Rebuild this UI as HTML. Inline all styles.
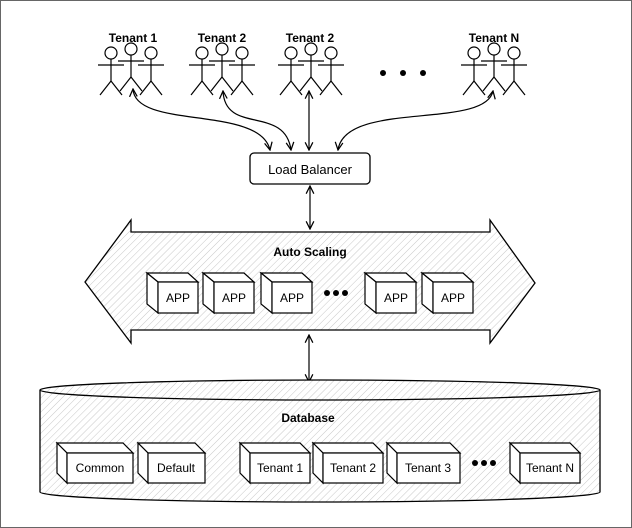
<!DOCTYPE html>
<html><head><meta charset="utf-8"><style>
html,body{margin:0;padding:0;background:#fff}
svg{display:block}
text{font-family:"Liberation Sans",sans-serif;fill:#000}
</style></head><body>
<svg width="632" height="528" viewBox="0 0 632 528" xmlns="http://www.w3.org/2000/svg">
<defs>
<pattern id="h" patternUnits="userSpaceOnUse" width="5" height="5" patternTransform="rotate(45)">
<rect width="5" height="5" fill="#fff"/><line x1="0" y1="0" x2="0" y2="5" stroke="#c8c8c8" stroke-width="1"/>
</pattern>
<marker id="a" viewBox="0 0 10 10" refX="9" refY="5" markerWidth="8" markerHeight="8" orient="auto-start-reverse">
<path d="M1,1 L9,5 L1,9" fill="none" stroke="#000" stroke-width="1.3"/>
</marker>
<g id="p" fill="none" stroke="#000" stroke-width="1.2">
<circle cx="0" cy="-18" r="6"/><line x1="0" y1="-12" x2="0" y2="10"/><line x1="-13" y1="-6" x2="13" y2="-6"/>
<line x1="0" y1="10" x2="-11" y2="24"/><line x1="0" y1="10" x2="11" y2="24"/>
</g>
<g id="tr">
<use href="#p" x="-20" y="71"/><use href="#p" x="0" y="67"/><use href="#p" x="20" y="71"/>
</g>
</defs>
<rect x="0.5" y="0.5" width="631" height="527" fill="#fff" stroke="#666"/>

<g font-size="12" font-weight="bold" text-anchor="middle">
<text x="133" y="42">Tenant 1</text><text x="222" y="42">Tenant 2</text><text x="310" y="42">Tenant 2</text><text x="494" y="42">Tenant N</text>
</g>
<use href="#tr" x="131" y="0"/><use href="#tr" x="222" y="0"/><use href="#tr" x="311" y="0"/><use href="#tr" x="494" y="0"/>
<circle cx="383" cy="73" r="3"/><circle cx="403" cy="73" r="3"/><circle cx="423" cy="73" r="3"/>

<g fill="none" stroke="#000" stroke-width="1.2" marker-start="url(#a)" marker-end="url(#a)">
<path d="M133,89 C135,130 260,105 270,150"/>
<path d="M223,91 C225,135 285,105 291,150"/>
<path d="M309,91 L309,150"/>
<path d="M493,91 C485,130 345,100 338,150"/>
<path d="M310,186 L310,229"/>
<path d="M309,335 L309,382"/>
</g>

<rect x="250" y="153" width="120" height="31" rx="4" fill="#fff" stroke="#000" stroke-width="1.3"/>
<text x="310" y="174" font-size="13" text-anchor="middle">Load Balancer</text>

<path d="M85,282 L131,220 L131,232 L490,232 L490,220 L535,283 L490,343 L490,330 L131,330 L131,343 Z" fill="url(#h)" stroke="#000" stroke-width="1.3"/>
<text x="310" y="256" font-size="12" font-weight="bold" text-anchor="middle">Auto Scaling</text>

<g stroke="#000" stroke-width="1.2" fill="#fff">
<g id="c1"><polygon points="147,273 188,273 198,282 158,282"/><polygon points="147,273 158,282 158,313 147,304"/><rect x="158" y="282" width="40" height="31"/></g>
<use href="#c1" x="56"/><use href="#c1" x="114"/><use href="#c1" x="218"/><use href="#c1" x="275"/>
</g>
<g font-size="12" text-anchor="middle">
<text x="178" y="302">APP</text><text x="234" y="302">APP</text><text x="292" y="302">APP</text><text x="396" y="302">APP</text><text x="453" y="302">APP</text>
</g>
<circle cx="327" cy="293" r="3"/><circle cx="336" cy="293" r="3"/><circle cx="345" cy="293" r="3"/>

<path d="M40,390 L40,492 A280,10 0 0 0 600,492 L600,390" fill="url(#h)" stroke="#000" stroke-width="1.3"/>
<ellipse cx="320" cy="390" rx="280" ry="10" fill="url(#h)" stroke="#000" stroke-width="1.3"/>
<text x="308" y="422" font-size="12" font-weight="bold" text-anchor="middle">Database</text>

<g stroke="#000" stroke-width="1.2" fill="#fff">
<polygon points="57,443 123,443 133,453 67,453"/><polygon points="57,443 67,453 67,483 57,473"/><rect x="67" y="453" width="66" height="30"/>
<polygon points="138,443 195,443 205,453 148,453"/><polygon points="138,443 148,453 148,483 138,473"/><rect x="148" y="453" width="57" height="30"/>
<polygon points="240,443 300,443 310,453 250,453"/><polygon points="240,443 250,453 250,483 240,473"/><rect x="250" y="453" width="60" height="30"/>
<polygon points="313,443 373,443 383,453 323,453"/><polygon points="313,443 323,453 323,483 313,473"/><rect x="323" y="453" width="60" height="30"/>
<polygon points="387,443 450,443 460,453 397,453"/><polygon points="387,443 397,453 397,483 387,473"/><rect x="397" y="453" width="63" height="30"/>
<polygon points="510,443 570,443 580,453 520,453"/><polygon points="510,443 520,453 520,483 510,473"/><rect x="520" y="453" width="60" height="30"/>
</g>
<g font-size="12" text-anchor="middle">
<text x="100" y="472">Common</text><text x="176" y="472">Default</text><text x="280" y="472">Tenant 1</text><text x="353" y="472">Tenant 2</text><text x="428" y="472">Tenant 3</text><text x="550" y="472">Tenant N</text>
</g>
<circle cx="475" cy="463" r="3"/><circle cx="484" cy="463" r="3"/><circle cx="493" cy="463" r="3"/>
</svg>
</body></html>
